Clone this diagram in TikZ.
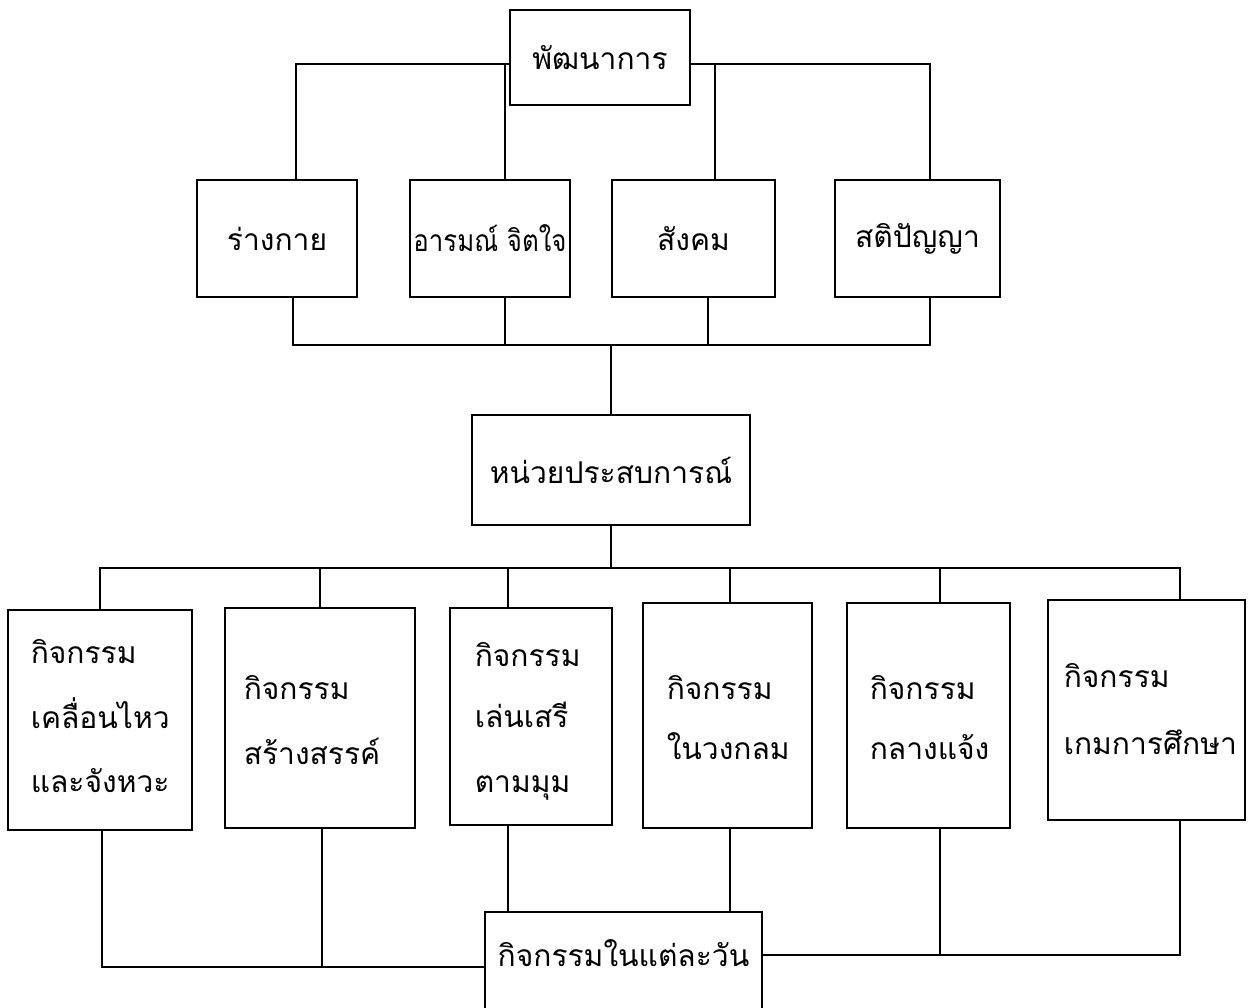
\documentclass[tikz,border=0pt]{standalone}
\usepackage{fontspec}
\newfontfamily\thai[Script=Thai]{Loma}
\begin{document}
\begin{tikzpicture}[x=1pt,y=-1pt, line width=1.5pt,
  box/.style={draw, inner sep=0pt},
  tx/.style={font=\thai\fontsize{30}{36}\selectfont, inner sep=0pt}]
\useasboundingbox (0,0) rectangle (1250,1007);
\clip (0,0) rectangle (1250,1007);

% --- top: development ---
\node[box, minimum width=180pt, minimum height=95pt, tx] (dev) at (600,57.5) {พัฒนาการ};

% --- four aspects ---
\node[box, minimum width=160pt, minimum height=117pt, tx] (rk) at (277,238.5) {ร่างกาย};
\node[box, minimum width=160pt, minimum height=117pt, tx] (em) at (490,238.5) {\scalebox{0.86}[1]{อารมณ์ จิตใจ}};
\node[box, minimum width=163pt, minimum height=117pt, tx] (sg) at (693.5,238.5) {สังคม};
\node[box, minimum width=165pt, minimum height=117pt, tx] (ip) at (917.5,238.5) {สติปัญญา};

% --- experience unit ---
\node[box, minimum width=278pt, minimum height=110pt, tx] (exp) at (611,470) {หน่วยประสบการณ์};

% --- six activities ---
\node[box, minimum width=184pt, minimum height=220pt] (a1) at (100,720) {};
\node[box, minimum width=190pt, minimum height=220pt] (a2) at (320,718) {};
\node[box, minimum width=162pt, minimum height=217pt] (a3) at (531,716.5) {};
\node[box, minimum width=169pt, minimum height=225pt] (a4) at (727.5,715.5) {};
\node[box, minimum width=163pt, minimum height=225pt] (a5) at (928.5,715.5) {};
\node[box, minimum width=197pt, minimum height=220pt] (a6) at (1146.5,710) {};

\node[tx, anchor=base west] (a1l1) at (30,663) {กิจกรรม};
\node[tx, anchor=base west] (a1l2) at (30,728) {เคลื่อนไหว};
\node[tx, anchor=base west] (a1l3) at (30,792) {และจังหวะ};
\node[tx, anchor=base west] (a2l1) at (243,699) {กิจกรรม};
\node[tx, anchor=base west] (a2l2) at (243,764) {สร้างสรรค์};
\node[tx, anchor=base west] (a3l1) at (474,666) {กิจกรรม};
\node[tx, anchor=base west] (a3l2) at (474,727) {เล่นเสรี};
\node[tx, anchor=base west] (a3l3) at (474,792) {ตามมุม};
\node[tx, anchor=base west] (a4l1) at (666,699) {กิจกรรม};
\node[tx, anchor=base west] (a4l2) at (666,759) {ในวงกลม};
\node[tx, anchor=base west] (a5l1) at (869,699) {กิจกรรม};
\node[tx, anchor=base west] (a5l2) at (869,759) {กลางแจ้ง};
\node[tx, anchor=base west] (a6l1) at (1063,687) {กิจกรรม};
\node[tx, anchor=base west] (a6l2) at (1063,754) {เกมการศึกษา};

% --- daily activities (runs past the lower edge) ---
\node[box, minimum width=277pt, minimum height=140pt] (day) at (623.5,982) {};
\node[tx, anchor=base] (daytx) at (623.5,966) {กิจกรรมในแต่ละวัน};

% --- connectors: development to aspects ---
\draw ([yshift=-6.5pt]dev.west) -| ([xshift=19pt]rk.north);
\draw ([xshift=15pt]em.north) -- ([xshift=15pt]em.north |- 0,64);
\draw ([yshift=-6.5pt]dev.east) -| ([xshift=12.5pt]ip.north);
\draw ([xshift=21.5pt]sg.north) -- ([xshift=21.5pt]sg.north |- 0,64);

% --- aspects to experience unit ---
\coordinate (j1) at (611,345);
\draw ([xshift=16pt]rk.south) |- (j1) -| ([xshift=12.5pt]ip.south);
\draw ([xshift=15pt]em.south) -- ([xshift=15pt]em.south |- j1);
\draw ([xshift=14.5pt]sg.south) -- ([xshift=14.5pt]sg.south |- j1);
\draw (j1) -- (exp.north);

% --- experience unit to activities ---
\coordinate (j2) at (611,568);
\draw (exp.south) -- (j2);
\draw (a1.north) |- (j2) -| ([xshift=33.5pt]a6.north);
\draw (a2.north) -- (a2.north |- j2);
\draw ([xshift=-23pt]a3.north) -- ([xshift=-23pt]a3.north |- j2);
\draw ([xshift=2.5pt]a4.north) -- ([xshift=2.5pt]a4.north |- j2);
\draw ([xshift=11.5pt]a5.north) -- ([xshift=11.5pt]a5.north |- j2);

% --- activities to daily activities ---
\coordinate (j3) at (485,967);
\coordinate (j4) at (762,955);
\draw ([xshift=2pt]a1.south) |- (j3);
\draw ([xshift=2pt]a2.south) -- ([xshift=2pt]a2.south |- j3);
\draw ([xshift=-23pt]a3.south) -- ([xshift=-23pt]a3.south |- day.north);
\draw ([xshift=2.5pt]a4.south) -- ([xshift=2.5pt]a4.south |- day.north);
\draw ([xshift=11.5pt]a5.south) -- ([xshift=11.5pt]a5.south |- j4);
\draw ([xshift=33.5pt]a6.south) |- (j4);
\end{tikzpicture}
\end{document}
